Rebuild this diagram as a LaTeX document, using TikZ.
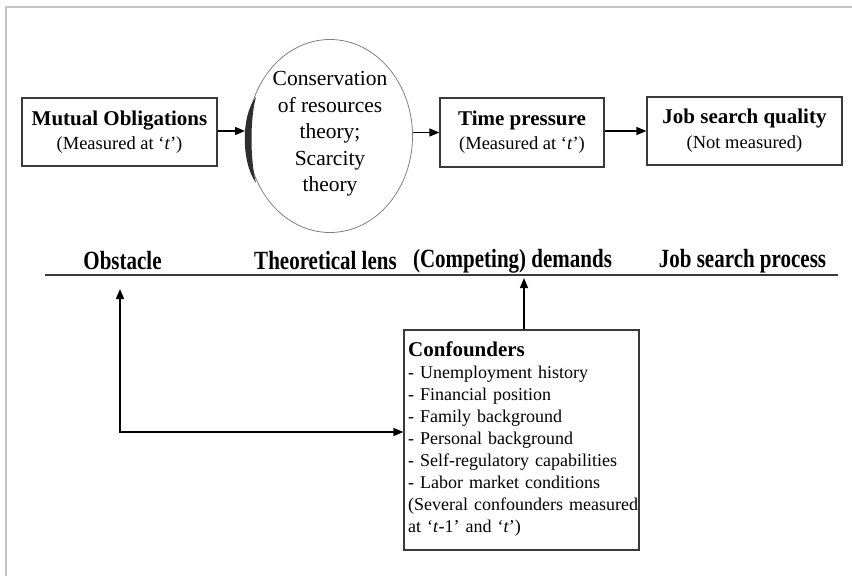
\documentclass[tikz,border=0pt]{standalone}
\usepackage{fontspec}
\usepackage{graphicx}
\setmainfont{Liberation Serif}
\usetikzlibrary{shapes.geometric,arrows.meta}
\definecolor{boxline}{HTML}{3A3A3A}
\definecolor{framegray}{HTML}{C4C4C4}
\tikzset{
  box/.style={draw=boxline, line width=1.2pt, align=center, inner sep=0pt, font=\fontsize{18.5}{22}\selectfont},
  arr/.style={line width=1.4pt, -{Triangle[length=10pt,width=8pt]}},
  darr/.style={line width=1.4pt, {Triangle[length=10pt,width=8pt]}-{Triangle[length=10pt,width=8pt]}},
  lbl/.style={font=\bfseries\fontsize{21}{24}\selectfont, anchor=center},
}
\newcommand{\ttlx}[1]{{\bfseries\fontsize{21}{24}\selectfont #1}}
\newcommand{\stretchlbl}[1]{\scalebox{1}[1.25]{#1}}
\begin{document}
\begin{tikzpicture}[x=1pt,y=-1pt]
\useasboundingbox (0,0) rectangle (852,576);
% frame lines
\draw[framegray, line width=1.5pt] (6,576) -- (6,7) -- (852,7);
% top row boxes
\node[box, minimum width=195pt, minimum height=68pt] (mo) at (119.5,132)
  {\ttlx{Mutual Obligations}\\[2pt](Measured at `\textit{t}')};
\node[box, minimum width=164pt, minimum height=69pt] (tp) at (522,132.5)
  {\ttlx{Time pressure}\\[2pt](Measured at `\textit{t}')};
\node[box, minimum width=195pt, minimum height=68pt] (jsq) at (744.5,131)
  {\ttlx{Job search quality}\\[3pt](Not measured)};
% ellipse lens
\node[ellipse, draw=gray, line width=0.8pt, minimum width=165pt, minimum height=193pt, inner sep=0pt] (lens) at (330,136) {};
\node[align=center, font=\fontsize{21.5}{26.5}\selectfont] (lenstext) at (330,134)
  {Conservation\\of resources\\theory;\\Scarcity\\theory};
% bracket
\fill[black!82] (256,97) .. controls (241,115) and (241,162) .. (256,183)
  .. controls (250,160) and (250,118) .. (256,97);
\coordinate (brk) at (245,131);
% arrows top row
\draw[arr] (mo.east |- brk) -- (brk);
\draw[arr] (lens.east |- tp.west) -- (tp.west);
\draw[arr] (tp.east |- jsq.west) -- (jsq.west);
% axis line and labels
\draw[boxline, line width=1.2pt] (45,275) -- (838,275);
\node[lbl] (l1) at (122.5,261) {\stretchlbl{Obstacle}};
\node[lbl] (l2) at (325.5,261) {\stretchlbl{Theoretical lens}};
\node[lbl] (l3) at (512.5,261) {\stretchlbl{(Competing) demands}};
\node[lbl] (l4) at (742.5,261) {\stretchlbl{Job search process}};
% confounders box
\node[box, minimum width=235pt, minimum height=220pt] (conf) at (521.5,440) {};
\node[anchor=base west, align=left, text width=230pt, inner sep=0pt, font=\fontsize{18}{22}\selectfont] (conftext) at (408,356)
  {{\bfseries\fontsize{21}{24}\selectfont Confounders}\\
   - Unemployment history\\
   - Financial position\\
   - Family background\\
   - Personal background\\
   - Self-regulatory capabilities\\
   - Labor market conditions\\
   (Several confounders measured\\
   at `\textit{t}-1' and `\textit{t}')};
% arrows from confounders
\coordinate (dem) at (524,278);
\draw[arr] ([xshift=2.5pt]conf.north) -- (dem);
\coordinate (obs) at (120,289);
\coordinate (corner) at (120,432);
\draw[darr] (obs) -- (corner) -- (conf.west |- corner);
\end{tikzpicture}
\end{document}
